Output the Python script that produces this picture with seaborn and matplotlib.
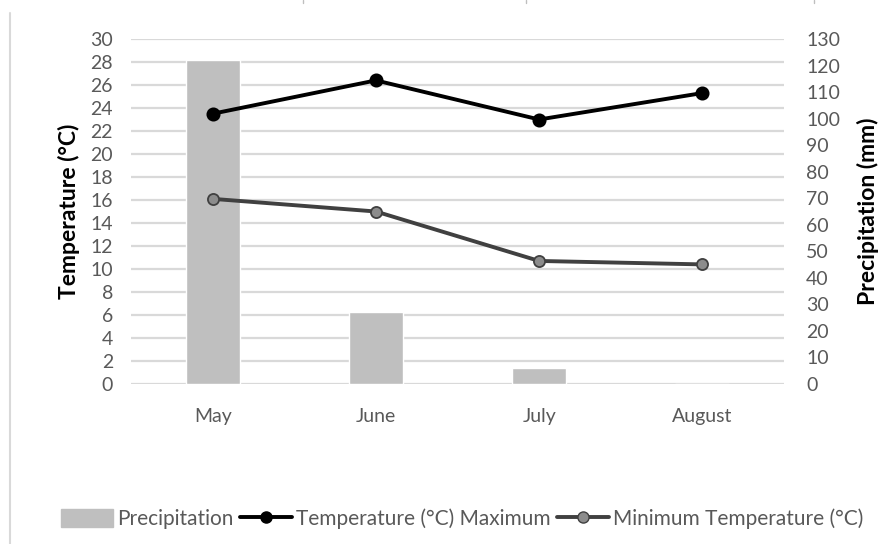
import numpy as np
import pandas as pd
import matplotlib
matplotlib.use("Agg")
import matplotlib.pyplot as plt
from matplotlib.lines import Line2D
from matplotlib.patches import Patch
import seaborn as sns

months = ["May", "June", "July", "August"]
precipitation = [122, 27, 6, 0]          # mm
temp_max = [23.5, 26.4, 23.0, 25.3]      # °C
temp_min = [16.1, 15.0, 10.7, 10.4]      # °C

temp_ticks = list(range(0, 31, 2))
precip_ticks = list(range(0, 131, 10))

sns.set_theme(style="white")
plt.rcParams["font.family"] = ["Lato", "DejaVu Sans"]

TXT = "#595959"
GRID = "#D9D9D9"
BAR = "#BFBFBF"
TICK_FS = 14
LABEL_FS = 16.5

fig = plt.figure(figsize=(8.91, 5.44), dpi=100)
rect = [131 / 891, (544 - 384) / 544, (784 - 131) / 891, (384 - 39) / 544]

# bottom layer: temperature scale with the horizontal grid
ax = fig.add_axes(rect)
# middle layer: precipitation bars on the right-hand scale
ax_bar = ax.twinx()
# top layer: temperature lines
ax_line = ax.twinx()

df = pd.DataFrame({"month": months, "precip": precipitation,
                   "tmax": temp_max, "tmin": temp_min})

sns.barplot(data=df, x="month", y="precip", color=BAR, saturation=1,
            width=0.33, ax=ax_bar, order=months)

sns.pointplot(data=df, x="month", y="tmax", color="black", markers="o",
              linestyles="-", ax=ax_line, order=months,
              markersize=8, linewidth=2.8)
sns.pointplot(data=df, x="month", y="tmin", color="#404040", markers="o",
              linestyles="-", ax=ax_line, order=months,
              markersize=8, linewidth=2.8,
              markerfacecolor="#8C8C8C", markeredgecolor="#404040",
              markeredgewidth=1.3)

for a in (ax, ax_bar, ax_line):
    a.set_xlim(-0.5, 3.5)
    for s in a.spines.values():
        s.set_visible(False)
    a.set_xlabel("")

ax.set_ylim(0, 30)
ax_line.set_ylim(0, 30)
ax_bar.set_ylim(0, 130)

ax.set_yticks(temp_ticks)
ax.yaxis.grid(True, color=GRID, linewidth=1.6)
ax.xaxis.grid(False)
ax.set_xticks(range(len(months)))
ax.set_xticklabels(months)
ax.tick_params(axis="both", length=0, labelsize=TICK_FS, colors=TXT)
ax.tick_params(axis="x", pad=17)
ax.tick_params(axis="y", pad=13)
ax.set_ylabel("Temperature (°C)", fontsize=LABEL_FS, fontweight="bold",
              color="black", labelpad=7)

ax_bar.set_yticks(precip_ticks)
ax_bar.tick_params(axis="y", length=0, labelsize=TICK_FS, colors=TXT, pad=16)
ax_bar.tick_params(axis="x", length=0, labelbottom=False)
ax_bar.grid(False)
ax_bar.patch.set_visible(False)
ax_bar.set_ylabel("Precipitation (mm)", fontsize=LABEL_FS, fontweight="bold",
                  color="black", labelpad=12)

ax_line.set_yticks([])
ax_line.set_ylabel("")
ax_line.tick_params(axis="x", length=0, labelbottom=False)
ax_line.grid(False)
ax_line.patch.set_visible(False)

handles = [
    Patch(facecolor=BAR, edgecolor=BAR),
    Line2D([], [], color="black", linewidth=2.8, marker="o", markersize=8),
    Line2D([], [], color="#404040", linewidth=2.8, marker="o", markersize=8,
           markerfacecolor="#8C8C8C", markeredgecolor="#404040"),
]
labels = ["Precipitation", "Temperature (°C) Maximum",
          "Minimum Temperature (°C)"]
fig.legend(handles, labels, loc="center left",
           bbox_to_anchor=(61 / 891, (544 - 519) / 544), ncol=3,
           frameon=False, fontsize=15, handlelength=2.5, handleheight=0.9,
           handletextpad=0.2, columnspacing=0.3, labelcolor=TXT,
           borderaxespad=0, borderpad=0)

# chart frame edge on the left and small marks along the top
fig.add_artist(Line2D([9.5 / 891, 9.5 / 891], [0, (544 - 13) / 544],
                      color="#D9D9D9", linewidth=1.5))
for xm in (303, 526, 814):
    fig.add_artist(Line2D([xm / 891, xm / 891], [1, (544 - 3) / 544],
                          color="#BFBFBF", linewidth=1))

fig.savefig("out.png", dpi=100, facecolor="white")
